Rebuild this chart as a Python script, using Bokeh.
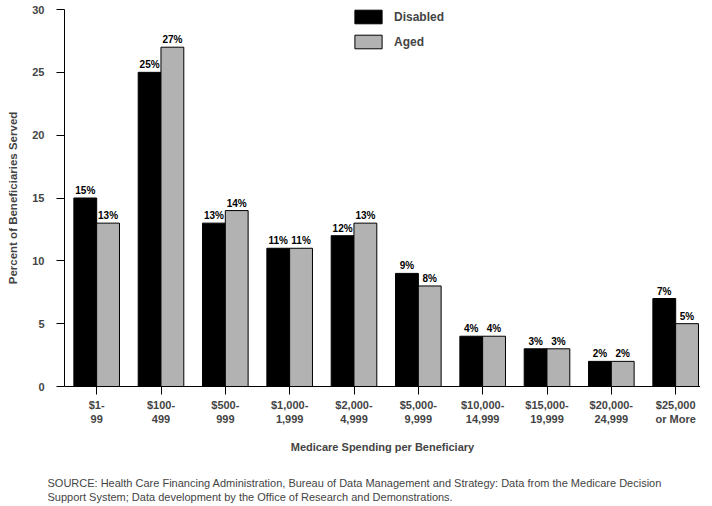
import numpy as np
from bokeh.plotting import figure
from bokeh.models import Range1d, FixedTicker, Title, ColumnDataSource, LabelSet
from bokeh.core.properties import value
from bokeh.embed import file_html
from bokeh.resources import INLINE

categories = ["$1-\n99", "$100-\n499", "$500-\n999", "$1,000-\n1,999", "$2,000-\n4,999",
              "$5,000-\n9,999", "$10,000-\n14,999", "$15,000-\n19,999", "$20,000-\n24,999",
              "$25,000\nor More"]
disabled = [15, 25, 13, 11, 12, 9, 4, 3, 2, 7]
aged = [13, 27, 14, 11, 13, 8, 4, 3, 2, 5]
y_ticks = [0, 5, 10, 15, 20, 25, 30]

FONT = "Liberation Sans"
idx = np.arange(len(categories)) + 0.5
off = 0.177
bw = 0.355

p = figure(width=700, height=504, output_backend="svg", toolbar_location=None,
           x_range=Range1d(0, 9.886), y_range=Range1d(0, 30),
           min_border_left=64, min_border_top=9, min_border_right=0, min_border_bottom=118)
p.outline_line_color = None
p.xgrid.visible = False
p.ygrid.visible = False

src_d = ColumnDataSource(dict(x=idx - off, top=disabled, lab=[f"{v}%" for v in disabled]))
src_a = ColumnDataSource(dict(x=idx + off, top=aged, lab=[f"{v}%" for v in aged]))

p.vbar(x="x", top="top", width=bw, source=src_d, fill_color="black", line_color="black",
       legend_label="Disabled")
p.vbar(x="x", top="top", width=bw, source=src_a, fill_color="#b2b2b2", line_color="black",
       line_width=1, legend_label="Aged")

for s in (src_d, src_a):
    p.add_layout(LabelSet(x="x", y="top", text="lab", source=s, text_align="center",
                          text_baseline="bottom", y_offset=2, text_font=value(FONT),
                          text_font_size=value("10px"), text_font_style="bold",
                          text_color="black"))

# axes
p.xaxis.ticker = FixedTicker(ticks=list(idx))
p.xaxis.major_label_overrides = {float(x): c for x, c in zip(idx, categories)}
p.xaxis.minor_tick_line_color = None
p.xaxis.major_tick_out = 8
p.xaxis.major_tick_in = 0
p.xaxis.major_label_standoff = 4
p.xaxis.major_label_text_font = FONT
p.xaxis.major_label_text_font_size = "11px"
p.xaxis.major_label_text_font_style = "bold"
p.xaxis.axis_label = "Medicare Spending per Beneficiary"
p.xaxis.axis_label_text_font = FONT
p.xaxis.axis_label_text_font_size = "11px"
p.xaxis.axis_label_text_font_style = "bold"
p.xaxis.axis_label_standoff = 13
p.xaxis.axis_line_color = "black"

p.yaxis.ticker = FixedTicker(ticks=y_ticks)
p.yaxis.minor_tick_line_color = None
p.yaxis.major_tick_out = 8
p.yaxis.major_tick_in = 0
p.yaxis.major_label_standoff = 12
p.yaxis.major_label_text_font = FONT
p.yaxis.major_label_text_font_size = "11px"
p.yaxis.major_label_text_font_style = "bold"
p.yaxis.axis_label = "Percent of Beneficiaries Served"
p.yaxis.axis_label_text_font = FONT
p.yaxis.axis_label_text_font_size = "11.5px"
p.yaxis.axis_label_text_font_style = "bold"
p.yaxis.axis_label_standoff = 10

# legend
lg = p.legend[0]
lg.location = (287, 336)
lg.padding = 0
lg.margin = 0
lg.spacing = 8
lg.glyph_width = 34
lg.glyph_height = 17
lg.label_height = 17
lg.label_standoff = 9
lg.border_line_color = None
lg.background_fill_alpha = 0
lg.label_text_font = FONT
lg.label_text_font_size = "12px"
lg.label_text_font_style = "bold"

src1 = "SOURCE: Health Care Financing Administration, Bureau of Data Management and Strategy: Data from the Medicare Decision"
src2 = "Support System; Data development by the Office of Research and Demonstrations."
spacer = Title(text=" ", text_font_size="15px", standoff=0)
t1 = Title(text=src1, align="left", offset=-17, text_font=FONT, text_font_size="11px",
           text_font_style="normal", standoff=0)
t2 = Title(text=src2, align="left", offset=-17, text_font=FONT, text_font_size="11px",
           text_font_style="normal", standoff=0)
p.add_layout(spacer, "below")
p.add_layout(t1, "below")
p.add_layout(t2, "below")

open("out.html", "w").write(file_html(p, INLINE))
